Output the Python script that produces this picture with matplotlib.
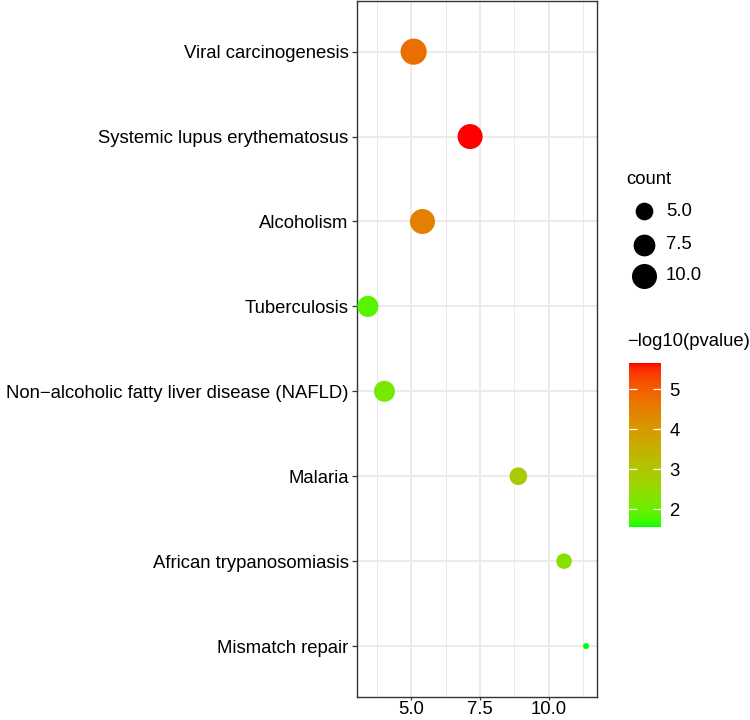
import numpy as np
import matplotlib.pyplot as plt
from matplotlib.colors import ListedColormap, Normalize
from matplotlib.cm import ScalarMappable

plt.rcParams['font.family'] = ['Liberation Sans', 'DejaVu Sans']

# pathway terms, top to bottom
terms = ['Viral carcinogenesis', 'Systemic lupus erythematosus', 'Alcoholism',
         'Tuberculosis', 'Non\u2212alcoholic fatty liver disease (NAFLD)', 'Malaria',
         'African trypanosomiasis', 'Mismatch repair']
x_values = [5.09, 7.14, 5.41, 3.43, 4.03, 8.89, 10.55, 11.35]
counts = [11, 10, 10, 7, 7, 5, 4, 2]
neg_log_p = [4.75, 5.65, 4.45, 1.85, 2.15, 2.85, 2.35, 1.55]

size_breaks = [5.0, 7.5, 10.0]
size_labels = ['5.0', '7.5', '10.0']
x_ticks = [5.0, 7.5, 10.0]
x_tick_labels = ['5.0', '7.5', '10.0']
cbar_ticks = [2, 3, 4, 5]


def srgb_to_lab(rgb):
    rgb = np.asarray(rgb, dtype=float)
    lin = np.where(rgb <= 0.04045, rgb / 12.92, ((rgb + 0.055) / 1.055) ** 2.4)
    m = np.array([[0.4124564, 0.3575761, 0.1804375],
                  [0.2126729, 0.7151522, 0.0721750],
                  [0.0193339, 0.1191920, 0.9503041]])
    xyz = m @ lin / np.array([0.95047, 1.0, 1.08883])
    f = np.where(xyz > 216 / 24389, np.cbrt(xyz), (24389 / 27 * xyz + 16) / 116)
    return np.array([116 * f[1] - 16, 500 * (f[0] - f[1]), 200 * (f[1] - f[2])])


def lab_to_srgb(lab):
    L, a, b = lab
    fy = (L + 16) / 116
    fx = fy + a / 500
    fz = fy - b / 200
    def finv(t):
        return t ** 3 if t ** 3 > 216 / 24389 else (116 * t - 16) / (24389 / 27)
    xyz = np.array([finv(fx), finv(fy), finv(fz)]) * np.array([0.95047, 1.0, 1.08883])
    m = np.array([[3.2404542, -1.5371385, -0.4985314],
                  [-0.9692660, 1.8760108, 0.0415560],
                  [0.0556434, -0.2040259, 1.0572252]])
    lin = np.clip(m @ xyz, 0, 1)
    rgb = np.where(lin <= 0.0031308, 12.92 * lin, 1.055 * lin ** (1 / 2.4) - 0.055)
    return np.clip(rgb, 0, 1)


def green_red_cmap(n=256):
    # ggplot-like gradient, interpolated in Lab space
    lo = srgb_to_lab([0, 1, 0])
    hi = srgb_to_lab([1, 0, 0])
    cols = [lab_to_srgb(lo + (hi - lo) * t) for t in np.linspace(0, 1, n)]
    return ListedColormap(cols)


def diameter_px(c, cmin, cmax):
    size = 1 + 5 * np.sqrt((np.asarray(c, dtype=float) - cmin) / (cmax - cmin))
    return 4.03 * size + 2


def to_area(d_px, dpi):
    return (d_px * 72.0 / dpi) ** 2


def main():
    dpi = 100
    fig = plt.figure(figsize=(7.5, 7.2), dpi=dpi)
    ax = fig.add_axes([357 / 750, 1 - 697 / 720, 240 / 750, 697 / 720 - 0.001])

    cmap = green_red_cmap()
    norm = Normalize(vmin=min(neg_log_p), vmax=max(neg_log_p))
    cmin, cmax = min(counts), max(counts)

    ypos = np.arange(len(terms))
    ax.scatter(x_values, ypos, s=to_area(diameter_px(counts, cmin, cmax), dpi),
               c=neg_log_p, cmap=cmap, norm=norm, edgecolors='none', zorder=3)

    span = max(x_values) - min(x_values)
    ax.set_xlim(min(x_values) - 0.05 * span, max(x_values) + 0.05 * span)
    ax.set_ylim(len(terms) - 0.4, -0.6)
    ax.set_xticks(x_ticks)
    ax.set_xticklabels(x_tick_labels)
    ax.set_xticks([3.75, 6.25, 8.75, 11.25], minor=True)
    ax.set_yticks(ypos)
    ax.set_yticklabels(terms)

    ax.grid(True, which='major', color='#EBEBEB', linewidth=1.4, zorder=0)
    ax.grid(True, which='minor', axis='x', color='#EBEBEB', linewidth=0.7, zorder=0)
    ax.set_axisbelow(True)
    ax.tick_params(axis='y', which='major', length=3.5, width=0.9, color='#333333',
                   labelsize=13.3, labelcolor='black', pad=2.5)
    ax.tick_params(axis='x', which='major', length=2, width=0.9, color='#333333',
                   labelsize=13.3, labelcolor='black', pad=0.8)
    ax.tick_params(which='minor', length=0)
    for sp in ax.spines.values():
        sp.set_color('#333333')
        sp.set_linewidth(1.0)

    # size legend
    fig.text(626 / 750, 1 - 180 / 720, 'count', fontsize=13.3, va='center', ha='left')
    leg_y = [211.5, 244.5, 275.5]
    for b, lab, yy in zip(size_breaks, size_labels, leg_y):
        d = diameter_px(b, cmin, cmax)
        fig.add_artist(plt.Line2D([644 / 750], [1 - yy / 720], marker='o', markersize=d * 72 / dpi,
                                  color='black', markeredgewidth=0, linestyle='none',
                                  transform=fig.transFigure))
        fig.text(666 / 750, 1 - yy / 720, lab, fontsize=13.3, va='center', ha='left')

    # colour bar
    fig.text(627 / 750, 1 - 342 / 720, '\u2212log10(pvalue)', fontsize=13.3, va='center', ha='left')
    cax = fig.add_axes([629 / 750, 1 - 527 / 720, 32 / 750, 164 / 720])
    sm = ScalarMappable(norm=norm, cmap=cmap)
    cb = fig.colorbar(sm, cax=cax, ticks=cbar_ticks)
    cb.outline.set_visible(False)
    cax.tick_params(axis='y', direction='in', left=True, right=True, color='white',
                    length=6, width=0.9, labelsize=13.3, pad=6)
    cax.set_yticklabels([str(t) for t in cbar_ticks])

    fig.savefig('out.png', dpi=dpi)


if __name__ == '__main__':
    main()
